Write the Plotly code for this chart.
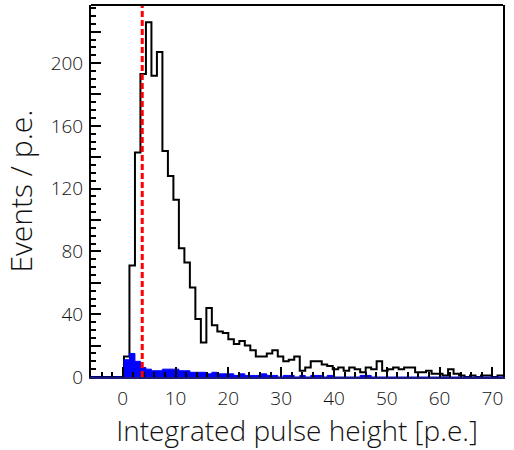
import numpy as np
import plotly.graph_objects as go

# ---- data ----
bin_lo = -6.0
bin_hi = 72.0
n_bins = 75

all_events = [0, 0, 0, 0, 0, 0, 13, 71, 143, 193,
              226, 192, 207, 144, 128, 113, 82, 73, 57, 37,
              22, 44, 33, 29, 28, 24, 21, 23, 20, 17,
              13, 13, 15, 17, 13, 10, 11, 13, 4, 6,
              10, 10, 8, 7, 5, 6, 4, 6, 5, 3,
              6, 5, 10, 4, 5, 6, 5, 6, 6, 3,
              3, 4, 2, 2, 1, 5, 2, 1, 0, 1,
              0, 1, 1, 0, 1]

selected_events = [0, 0, 0, 0, 0, 0, 11, 15, 10, 6,
                   5, 4, 4, 5, 5, 5, 4, 4, 3, 3,
                   3, 2, 3, 2, 2, 2, 1, 2, 1, 1,
                   1, 2, 1, 1, 0, 1, 1, 0, 1, 0,
                   1, 1, 0, 1, 0, 0, 0, 0, 0, 1,
                   1, 0, 0, 0, 0, 0, 0, 0, 0, 0,
                   0, 0, 0, 0, 0, 0, 0, 0, 0, 0,
                   0, 0, 0, 0, 0]

threshold = 3.7
y_max = 237

x_ticks = [0, 10, 20, 30, 40, 50, 60, 70]
y_ticks = [0, 20, 40, 60, 80, 100, 120, 140, 160, 180, 200, 220]
y_labels = ["0", "", "40", "", "80", "", "120", "", "160", "", "200", ""]

x_title = "Integrated pulse height [p.e.]"
y_title = "Events / p.e."

# ---- figure ----
edges = np.linspace(bin_lo, bin_hi, n_bins + 1)

FONT = "'Open Sans', Lato, 'Liberation Sans', sans-serif"
TXT = "#111111"

fig = go.Figure()

fig.add_trace(go.Scatter(
    x=edges, y=all_events + [all_events[-1]],
    mode="lines", line_shape="hv",
    line=dict(color="black", width=2),
    hoverinfo="skip", showlegend=False,
))

fig.add_trace(go.Scatter(
    x=edges, y=selected_events + [selected_events[-1]],
    mode="lines", line_shape="hv",
    fill="tozeroy", fillcolor="#0000ff",
    line=dict(color="#0000ff", width=1),
    hoverinfo="skip", showlegend=False,
))

fig.add_shape(type="line", xref="x", yref="paper",
              x0=threshold, x1=threshold, y0=0, y1=1,
              line=dict(color="#ff0000", width=3, dash="6px,3px"),
              layer="above")

# top frame line
fig.add_shape(type="line", xref="paper", yref="paper",
              x0=0, x1=1, y0=1, y1=1,
              line=dict(color="black", width=2), layer="above")

fig.update_layout(
    width=514, height=450,
    margin=dict(l=91, r=11, t=5, b=73),
    paper_bgcolor="white", plot_bgcolor="white",
    font=dict(family=FONT, color=TXT, weight=300),
    showlegend=False,
)

fig.update_xaxes(
    range=[bin_lo, bin_hi],
    tickvals=x_ticks,
    ticks="inside", ticklen=10, tickwidth=2, tickcolor="black",
    minor=dict(dtick=2, tick0=0, ticks="inside", ticklen=5,
               tickwidth=1.5, tickcolor="black"),
    showline=True, linecolor="#1c1c78", linewidth=2, mirror=False,
    showgrid=False, zeroline=False,
    tickfont=dict(size=19, family=FONT, color=TXT, weight=300),
    ticklabelstandoff=3,
    title=dict(text=x_title, standoff=12,
               font=dict(size=28, family=FONT, color=TXT, weight=300)),
)

fig.update_yaxes(
    range=[0, y_max],
    tickvals=y_ticks, ticktext=y_labels,
    ticks="inside", ticklen=10, tickwidth=2, tickcolor="black",
    minor=dict(dtick=5, tick0=0, ticks="inside", ticklen=5,
               tickwidth=1.5, tickcolor="black"),
    showline=True, linecolor="black", linewidth=2, mirror=True,
    showgrid=False, zeroline=False,
    tickfont=dict(size=19, family=FONT, color=TXT, weight=300),
    ticklabelstandoff=2,
    title=dict(text=y_title, standoff=10,
               font=dict(size=30, family=FONT, color=TXT, weight=300)),
)

fig.write_html("out.html",
               config={"displayModeBar": False},
               post_script="document.body.style.margin='0px';"
                           "document.body.style.padding='0px';")
